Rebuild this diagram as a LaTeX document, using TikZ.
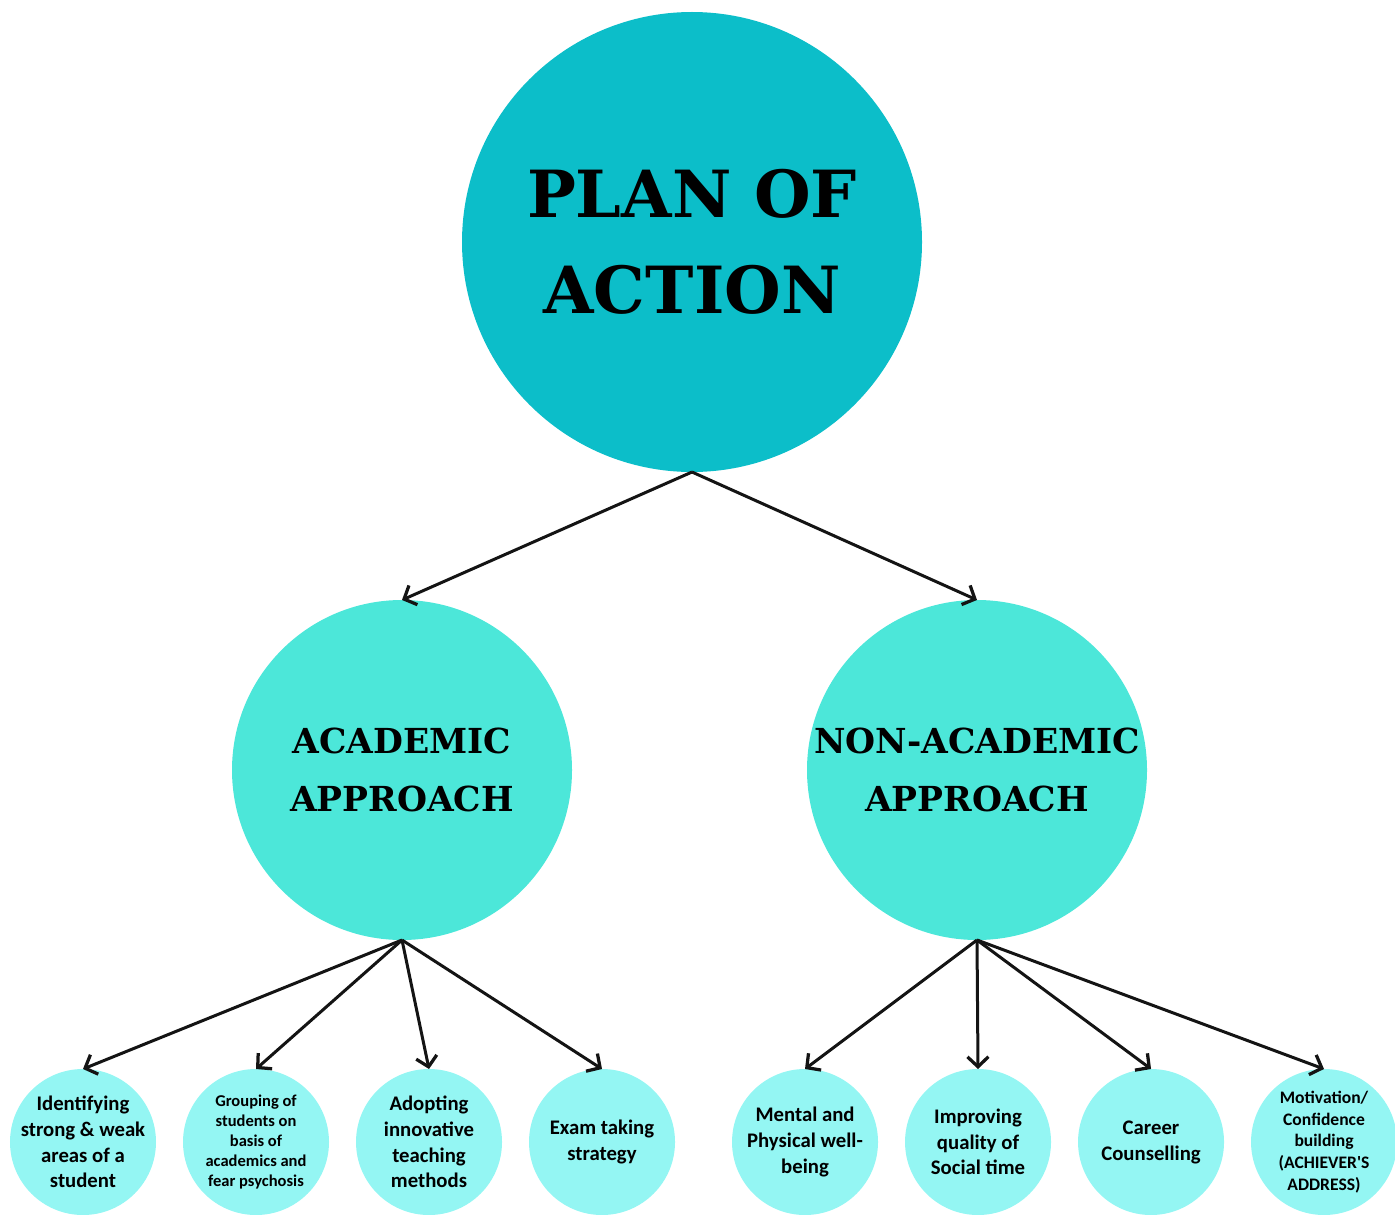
\documentclass[tikz,border=0pt]{standalone}
\usepackage{fontspec}
\setmainfont{DejaVu Serif}
\newfontfamily\leaffont{Carlito}
\usepackage{tikz}
\usetikzlibrary{positioning}
\usetikzlibrary{arrows.meta}
\definecolor{plancol}{RGB}{12,190,201}
\definecolor{approachcol}{RGB}{76,231,217}
\definecolor{leafcol}{RGB}{148,246,243}
\tikzset{node distance=5.4mm, % gap between the small circles in a row
         plan/.style={ % the big circle on top
           circle, fill=plancol, minimum size=92mm, inner sep=0pt, outer sep=0pt,
           align=center, font=\bfseries\fontsize{37}{55}\selectfont},
         approach/.style={ % the two middle circles
           circle, fill=approachcol, minimum size=68mm, inner sep=0pt, outer sep=0pt,
           align=center, font=\bfseries\fontsize{19.6}{33}\selectfont},
         leaf/.style={ % the small circles at the bottom
           circle, fill=leafcol, minimum size=29.2mm, inner sep=-3mm, outer sep=0pt,
           align=center, font=\leaffont\bfseries\fontsize{11.8}{14.6}\selectfont},
         branch/.style={ % connectors
           -{Straight Barb[length=2mm,width=4.2mm,line width=0.65mm]},
           line width=0.6mm, draw=black!92}}

\begin{document}
\begin{tikzpicture}[x=0.2mm,y=-0.2mm]
      \useasboundingbox (0,0) rectangle (1395,1214);

      \node[plan] (plan) at (692,242) {PLAN OF\\ACTION};
      \node[approach] (acad) at (402,770) {ACADEMIC\\APPROACH};
      \node[approach] (nonacad) at (977,770) {NON-ACADEMIC\\APPROACH};

      % academic side
      \node[leaf] (a1) at (83,1142) {Identifying\\strong \& weak\\areas of a\\student};
      \node[leaf, right=of a1, font=\leaffont\bfseries\fontsize{9.4}{11.4}\selectfont] (a2)
           {Grouping of\\students on\\basis of\\academics and\\fear psychosis};
      \node[leaf, right=of a2] (a3) {Adopting\\innovative\\teaching\\methods};
      \node[leaf, right=of a3, font=\leaffont\bfseries\fontsize{11.8}{14.8}\selectfont] (a4)
           {Exam taking\\strategy};

      % non-academic side
      \node[leaf, right=11.4mm of a4] (n1) {Mental and\\Physical well-\\being};
      \node[leaf, right=of n1] (n2) {Improving\\quality of\\Social time};
      \node[leaf, right=of n2, font=\leaffont\bfseries\fontsize{11.8}{14.8}\selectfont] (n3)
           {Career\\Counselling};
      \node[leaf, right=of n3, font=\leaffont\bfseries\fontsize{10}{12.4}\selectfont] (n4)
           {Motivation/\\Confidence\\building\\(ACHIEVER'S\\ADDRESS)};

      \draw[branch] (plan.south) -- (acad.north);
      \draw[branch] (plan.south) -- (nonacad.north);

      \foreach \leafname in {a1,a2,a3,a4}
        \draw[branch] (acad.south) -- (\leafname.north);
      \foreach \leafname in {n1,n2,n3,n4}
        \draw[branch] (nonacad.south) -- (\leafname.north);

    \end{tikzpicture}
\end{document}
